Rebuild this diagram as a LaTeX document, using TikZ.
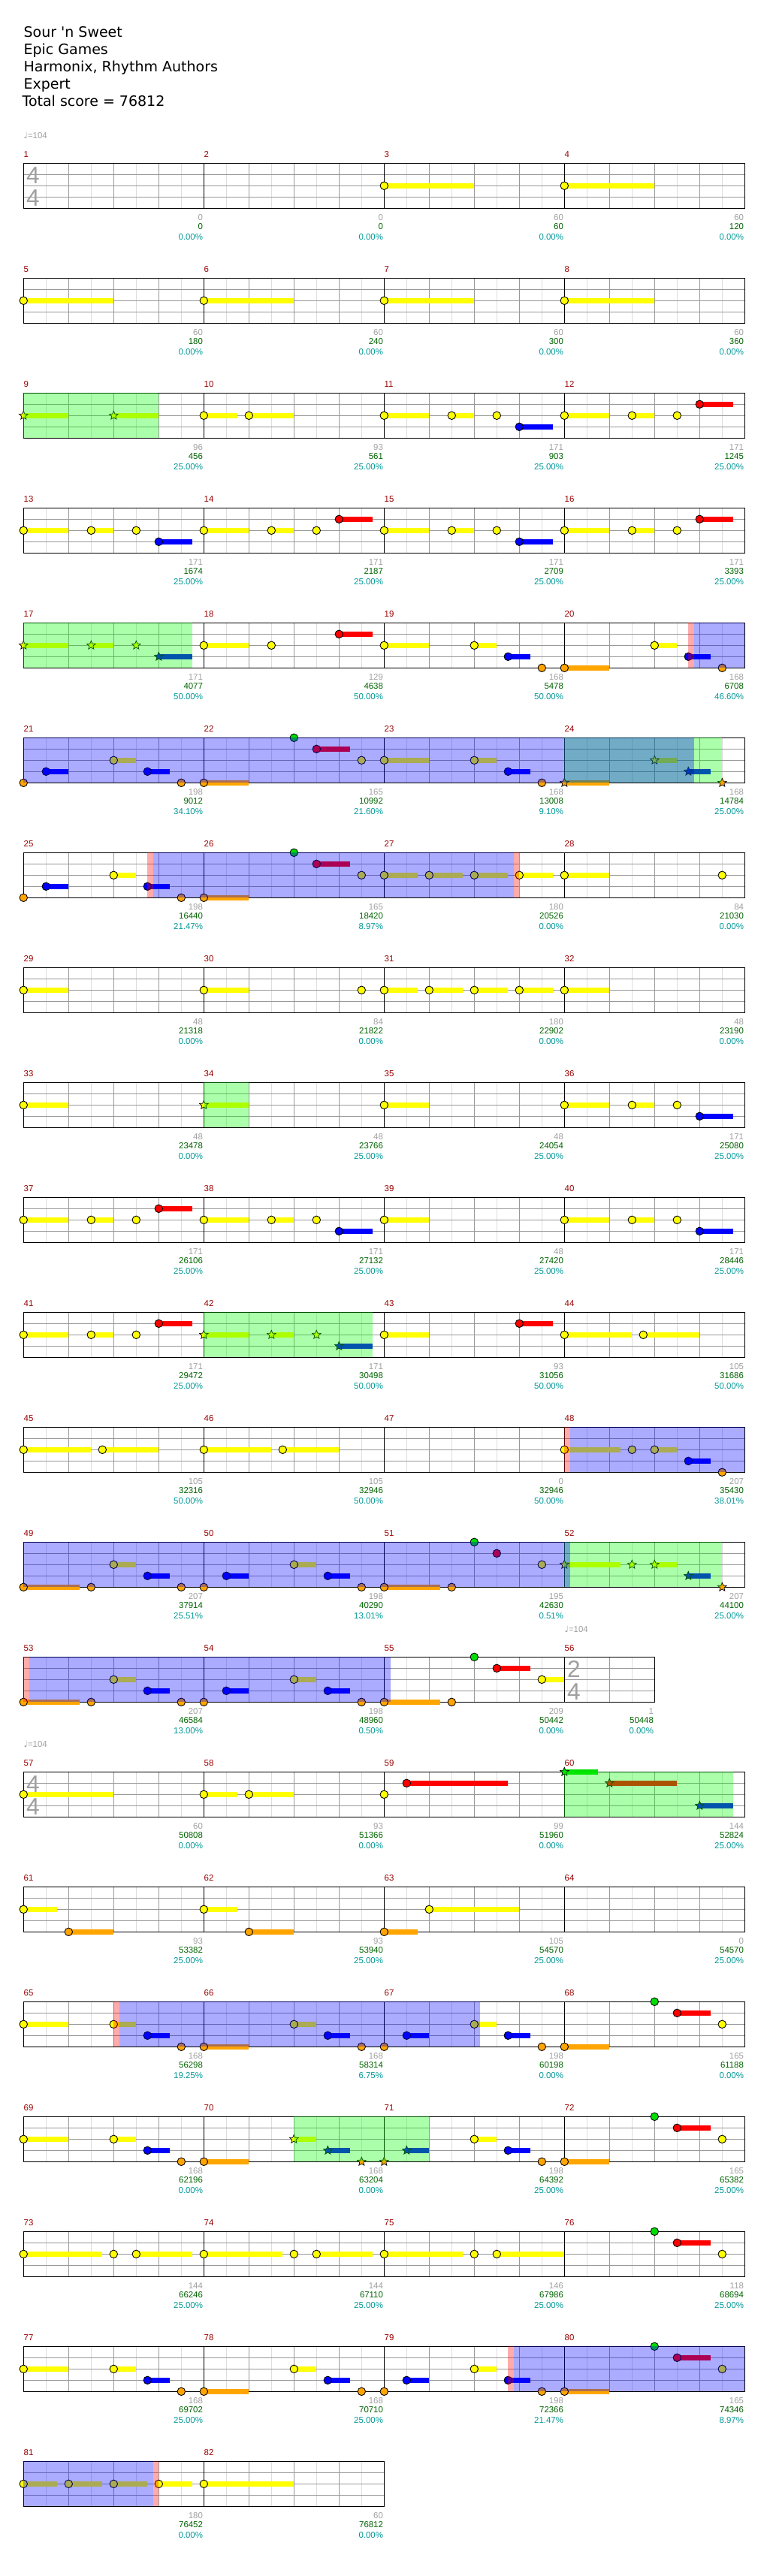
\documentclass[tikz,border=0pt]{standalone}
\usepackage{fontspec}
\newfontfamily\titlefont{DejaVu Sans}
\newfontfamily\chartfont{Liberation Sans}
\usetikzlibrary{shapes.geometric}
\definecolor{fretgreen}{HTML}{00DD00}
\definecolor{fretred}{HTML}{FF0000}
\definecolor{fretyellow}{HTML}{FFFF00}
\definecolor{fretblue}{HTML}{0000FF}
\definecolor{fretorange}{HTML}{FFA500}
\colorlet{lane0}{fretgreen}
\colorlet{lane1}{fretred}
\colorlet{lane2}{fretyellow}
\colorlet{lane3}{fretblue}
\colorlet{lane4}{fretorange}
\definecolor{barred}{HTML}{990000}
\definecolor{softgray}{HTML}{A0A0A0}
\definecolor{scoregreen}{HTML}{006400}
\definecolor{scoreteal}{HTML}{009999}
\definecolor{beatgray}{HTML}{999999}
\definecolor{halfgray}{HTML}{DDDDDD}

\begin{document}
\begin{tikzpicture}[
    row/.style={xshift=0.626cm,yshift={-4.346cm-3.06cm*(#1-1)},x=1.2cm,y=-0.3cm},
    title/.style={font=\titlefont\fontsize{10.8}{13}\selectfont,anchor=base west,inner sep=0pt},
    gem/.style={circle,fill=#1,draw=black,line width=0.5pt,inner sep=0pt,minimum size=0.21cm},
    spgem/.style={star,star points=5,star point ratio=2.2,fill=#1,draw=black,line width=0.4pt,inner sep=0pt,minimum size=0.24cm},
    small/.style={font=\chartfont\fontsize{6.5}{7}\selectfont,inner sep=0pt},
    barnum/.style={small,text=barred,anchor=base west},
    pts/.style={small,text=#1,anchor=base east,xshift=-0.02cm},
    tsig/.style={font=\chartfont\fontsize{18}{18}\selectfont,text=softgray,inner sep=0pt},
    tempo/.style={small,text=softgray,anchor=base west},
    phrase/.style={fill=green,fill opacity=0.33},
    odrive/.style={fill=blue,fill opacity=0.33},
    activ/.style={fill=red,fill opacity=0.33}]
  \def\staff#1#2{% beats, inner bar lines
    \foreach \h in {0.5,1.5,...,#1} \draw[halfgray,line width=0.5pt] (\h,0) -- (\h,4);
    \foreach \b in {1,...,#1} \draw[beatgray,line width=0.5pt] (\b,0) -- (\b,4);
    \foreach \y in {1,2,3} \draw[beatgray,line width=0.7pt] (0,\y) -- (#1,\y);
    \foreach \b in {#2} \draw[black,line width=0.5pt] (\b,0) -- (\b,4);
    \draw[black,line width=0.8pt] (0,0) rectangle (#1,4);}
  \def\gems#1#2{% row, lane/start/end
    \foreach \l/\p/\e in {#2}{\fill[lane\l] (\p,\l-0.233) rectangle (\e,\l+0.233);
      \node[gem=lane\l] (r#1-\l-\p) at (\p,\l) {};}}
  \def\stars#1#2{% row, lane/start/end
    \foreach \l/\p/\e in {#2}{\fill[lane\l] (\p,\l-0.233) rectangle (\e,\l+0.233);
      \node[spgem=lane\l] (s#1-\l-\p) at (\p,\l) {};}}
  \def\bars#1{% start/end/bar/base/total/percent
    \foreach \s/\e/\n/\a/\b/\c in {#1}{\node[barnum] (bar\n) at (\s,-0.49) {\n};
      \node[pts=softgray,yshift=-0.314cm] (pa\n) at (\e,4) {\a};
      \node[pts=scoregreen,yshift=-0.568cm] (pb\n) at (\e,4) {\b};
      \node[pts=scoreteal,yshift=-0.834cm] (pc\n) at (\e,4) {\c\%};}}
  \def\meter#1#2#3{% position, upper, lower
    \node[tsig] (up#1) at (#1+0.212,1.07) {#2};
    \node[tsig] (lo#1) at (#1+0.212,3.07) {#3};}

  \fill[white] (0,0) rectangle (20.48,-68.6);
  \useasboundingbox (0,0) rectangle (20.48,-68.6);
  \node[title] (song) at (0.626,-0.986) {Sour 'n Sweet};
  \node[title] (artist) at (0.626,-1.446) {Epic Games};
  \node[title] (charter) at (0.626,-1.914) {Harmonix, Rhythm Authors};
  \node[title] (level) at (0.626,-2.366) {Expert};
  \node[title] (total) at (0.586,-2.834) {Total score = 76812};

  % bars 1-4
  \begin{scope}[row=1]
    \staff{16}{4,8,12}
    \meter{0}{4}{4}
    \node[tempo] (bpm1) at (0,-2.19) {{\titlefont ♩}=104};
    \gems{1}{2/8/10, 2/12/14}
    \bars{0/4/1/0/0/0.00, 4/8/2/0/0/0.00, 8/12/3/60/60/0.00, 12/16/4/60/120/0.00}
  \end{scope}
  % bars 5-8
  \begin{scope}[row=2]
    \staff{16}{4,8,12}
    \gems{2}{2/0/2, 2/4/6, 2/8/10, 2/12/14}
    \bars{0/4/5/60/180/0.00, 4/8/6/60/240/0.00, 8/12/7/60/300/0.00, 12/16/8/60/360/0.00}
  \end{scope}
  % bars 9-12
  \begin{scope}[row=3]
    \staff{16}{4,8,12}
    \gems{3}{2/4/4.75, 2/5/6, 2/8/9, 2/9.5/10, 2/10.5/10.5, 3/11/11.75, 2/12/13, 2/13.5/14, 2/14.5/14.5, 1/15/15.75}
    \stars{3}{2/0/1, 2/2/3}
    \fill[phrase] (0,0) rectangle (3,4);
    \bars{0/4/9/96/456/25.00, 4/8/10/93/561/25.00, 8/12/11/171/903/25.00, 12/16/12/171/1245/25.00}
  \end{scope}
  % bars 13-16
  \begin{scope}[row=4]
    \staff{16}{4,8,12}
    \gems{4}{2/0/1, 2/1.5/2, 2/2.5/2.5, 3/3/3.75, 2/4/5, 2/5.5/6, 2/6.5/6.5, 1/7/7.75, 2/8/9, 2/9.5/10, 2/10.5/10.5, 3/11/11.75, 2/12/13, 2/13.5/14, 2/14.5/14.5, 1/15/15.75}
    \bars{0/4/13/171/1674/25.00, 4/8/14/171/2187/25.00, 8/12/15/171/2709/25.00, 12/16/16/171/3393/25.00}
  \end{scope}
  % bars 17-20
  \begin{scope}[row=5]
    \staff{16}{4,8,12}
    \gems{5}{2/4/5, 2/5.5/5.5, 1/7/7.75, 2/8/9, 2/10/10.5, 3/10.75/11.25, 4/11.5/11.5, 4/12/13, 2/14/14.5, 3/14.75/15.25, 4/15.5/15.5}
    \stars{5}{2/0/1, 2/1.5/2, 2/2.5/2.5, 3/3/3.75}
    \fill[phrase] (0,0) rectangle (3.75,4);
    \fill[activ] (14.75,0) rectangle (14.875,4);
    \fill[odrive] (14.875,0) rectangle (16,4);
    \bars{0/4/17/171/4077/50.00, 4/8/18/129/4638/50.00, 8/12/19/168/5478/50.00, 12/16/20/168/6708/46.60}
  \end{scope}
  % bars 21-24
  \begin{scope}[row=6]
    \staff{16}{4,8,12}
    \gems{6}{4/0/0, 3/0.5/1, 2/2/2.5, 3/2.75/3.25, 4/3.5/3.5, 4/4/5, 0/6/6, 1/6.5/7.25, 2/7.5/7.5, 2/8/9, 2/10/10.5, 3/10.75/11.25, 4/11.5/11.5}
    \stars{6}{4/12/13, 2/14/14.5, 3/14.75/15.25, 4/15.5/15.5}
    \fill[phrase] (12,0) rectangle (15.5,4);
    \fill[odrive] (0,0) rectangle (14.875,4);
    \bars{0/4/21/198/9012/34.10, 4/8/22/165/10992/21.60, 8/12/23/168/13008/9.10, 12/16/24/168/14784/25.00}
  \end{scope}
  % bars 25-28
  \begin{scope}[row=7]
    \staff{16}{4,8,12}
    \gems{7}{4/0/0, 3/0.5/1, 2/2/2.5, 3/2.75/3.25, 4/3.5/3.5, 4/4/5, 0/6/6, 1/6.5/7.25, 2/7.5/7.5, 2/8/8.75, 2/9/9.75, 2/10/10.75, 2/11/11.75, 2/12/13, 2/15.5/15.5}
    \fill[activ] (2.75,0) rectangle (2.875,4);
    \fill[odrive] (2.875,0) rectangle (10.875,4);
    \fill[activ] (10.875,0) rectangle (11,4);
    \bars{0/4/25/198/16440/21.47, 4/8/26/165/18420/8.97, 8/12/27/180/20526/0.00, 12/16/28/84/21030/0.00}
  \end{scope}
  % bars 29-32
  \begin{scope}[row=8]
    \staff{16}{4,8,12}
    \gems{8}{2/0/1, 2/4/5, 2/7.5/7.5, 2/8/8.75, 2/9/9.75, 2/10/10.75, 2/11/11.75, 2/12/13}
    \bars{0/4/29/48/21318/0.00, 4/8/30/84/21822/0.00, 8/12/31/180/22902/0.00, 12/16/32/48/23190/0.00}
  \end{scope}
  % bars 33-36
  \begin{scope}[row=9]
    \staff{16}{4,8,12}
    \gems{9}{2/0/1, 2/8/9, 2/12/13, 2/13.5/14, 2/14.5/14.5, 3/15/15.75}
    \stars{9}{2/4/5}
    \fill[phrase] (4,0) rectangle (5,4);
    \bars{0/4/33/48/23478/0.00, 4/8/34/48/23766/25.00, 8/12/35/48/24054/25.00, 12/16/36/171/25080/25.00}
  \end{scope}
  % bars 37-40
  \begin{scope}[row=10]
    \staff{16}{4,8,12}
    \gems{10}{2/0/1, 2/1.5/2, 2/2.5/2.5, 1/3/3.75, 2/4/5, 2/5.5/6, 2/6.5/6.5, 3/7/7.75, 2/8/9, 2/12/13, 2/13.5/14, 2/14.5/14.5, 3/15/15.75}
    \bars{0/4/37/171/26106/25.00, 4/8/38/171/27132/25.00, 8/12/39/48/27420/25.00, 12/16/40/171/28446/25.00}
  \end{scope}
  % bars 41-44
  \begin{scope}[row=11]
    \staff{16}{4,8,12}
    \gems{11}{2/0/1, 2/1.5/2, 2/2.5/2.5, 1/3/3.75, 2/8/9, 1/11/11.75, 2/12/13.5, 2/13.75/15}
    \stars{11}{2/4/5, 2/5.5/6, 2/6.5/6.5, 3/7/7.75}
    \fill[phrase] (4,0) rectangle (7.75,4);
    \bars{0/4/41/171/29472/25.00, 4/8/42/171/30498/50.00, 8/12/43/93/31056/50.00, 12/16/44/105/31686/50.00}
  \end{scope}
  % bars 45-48
  \begin{scope}[row=12]
    \staff{16}{4,8,12}
    \gems{12}{2/0/1.5, 2/1.75/3, 2/4/5.5, 2/5.75/7, 2/12/13.25, 2/13.5/13.5, 2/14/14.5, 3/14.75/15.25, 4/15.5/15.5}
    \fill[activ] (12,0) rectangle (12.125,4);
    \fill[odrive] (12.125,0) rectangle (16,4);
    \bars{0/4/45/105/32316/50.00, 4/8/46/105/32946/50.00, 8/12/47/0/32946/50.00, 12/16/48/207/35430/38.01}
  \end{scope}
  % bars 49-52
  \begin{scope}[row=13]
    \staff{16}{4,8,12}
    \gems{13}{4/0/1.25, 4/1.5/1.5, 2/2/2.5, 3/2.75/3.25, 4/3.5/3.5, 4/4/4, 3/4.5/5, 2/6/6.5, 3/6.75/7.25, 4/7.5/7.5, 4/8/9.25, 4/9.5/9.5, 0/10/10, 1/10.5/10.5, 2/11.5/11.5}
    \stars{13}{2/12/13.25, 2/13.5/13.5, 2/14/14.5, 3/14.75/15.25, 4/15.5/15.5}
    \fill[phrase] (12,0) rectangle (15.5,4);
    \fill[odrive] (0,0) rectangle (12.125,4);
    \bars{0/4/49/207/37914/25.51, 4/8/50/198/40290/13.01, 8/12/51/195/42630/0.51, 12/16/52/207/44100/25.00}
  \end{scope}
  % bars 53-56, the last one in 2/4
  \begin{scope}[row=14]
    \staff{14}{4,8,12}
    \meter{12}{2}{4}
    \node[tempo] (bpm2) at (12,-2.19) {{\titlefont ♩}=104};
    \gems{14}{4/0/1.25, 4/1.5/1.5, 2/2/2.5, 3/2.75/3.25, 4/3.5/3.5, 4/4/4, 3/4.5/5, 2/6/6.5, 3/6.75/7.25, 4/7.5/7.5, 4/8/9.25, 4/9.5/9.5, 0/10/10, 1/10.5/11.25, 2/11.5/12}
    \fill[activ] (0,0) rectangle (0.125,4);
    \fill[odrive] (0.125,0) rectangle (8.15,4);
    \bars{0/4/53/207/46584/13.00, 4/8/54/198/48960/0.50, 8/12/55/209/50442/0.00, 12/14/56/1/50448/0.00}
  \end{scope}
  % bars 57-60
  \begin{scope}[row=15]
    \staff{16}{4,8,12}
    \meter{0}{4}{4}
    \node[tempo] (bpm3) at (0,-2.19) {{\titlefont ♩}=104};
    \gems{15}{2/0/2, 2/4/4.75, 2/5/6, 2/8/8, 1/8.5/10.75}
    \stars{15}{0/12/12.75, 1/13/14.5, 3/15/15.75}
    \fill[phrase] (12,0) rectangle (15.75,4);
    \bars{0/4/57/60/50808/0.00, 4/8/58/93/51366/0.00, 8/12/59/99/51960/0.00, 12/16/60/144/52824/25.00}
  \end{scope}
  % bars 61-64
  \begin{scope}[row=16]
    \staff{16}{4,8,12}
    \gems{16}{2/0/0.75, 4/1/2, 2/4/4.75, 4/5/6, 4/8/8.75, 2/9/11}
    \bars{0/4/61/93/53382/25.00, 4/8/62/93/53940/25.00, 8/12/63/105/54570/25.00, 12/16/64/0/54570/25.00}
  \end{scope}
  % bars 65-68
  \begin{scope}[row=17]
    \staff{16}{4,8,12}
    \gems{17}{2/0/1, 2/2/2.5, 3/2.75/3.25, 4/3.5/3.5, 4/4/5, 2/6/6.5, 3/6.75/7.25, 4/7.5/7.5, 4/8/8, 3/8.5/9, 2/10/10.5, 3/10.75/11.25, 4/11.5/11.5, 4/12/13, 0/14/14, 1/14.5/15.25, 2/15.5/15.5}
    \fill[activ] (2,0) rectangle (2.125,4);
    \fill[odrive] (2.125,0) rectangle (10.125,4);
    \bars{0/4/65/168/56298/19.25, 4/8/66/168/58314/6.75, 8/12/67/198/60198/0.00, 12/16/68/165/61188/0.00}
  \end{scope}
  % bars 69-72
  \begin{scope}[row=18]
    \staff{16}{4,8,12}
    \gems{18}{2/0/1, 2/2/2.5, 3/2.75/3.25, 4/3.5/3.5, 4/4/5, 2/10/10.5, 3/10.75/11.25, 4/11.5/11.5, 4/12/13, 0/14/14, 1/14.5/15.25, 2/15.5/15.5}
    \stars{18}{2/6/6.5, 3/6.75/7.25, 4/7.5/7.5, 4/8/8, 3/8.5/9}
    \fill[phrase] (6,0) rectangle (9,4);
    \bars{0/4/69/168/62196/0.00, 4/8/70/168/63204/0.00, 8/12/71/198/64392/25.00, 12/16/72/165/65382/25.00}
  \end{scope}
  % bars 73-76
  \begin{scope}[row=19]
    \staff{16}{4,8,12}
    \gems{19}{2/0/1.75, 2/2/2, 2/2.5/3.75, 2/4/5.75, 2/6/6, 2/6.5/7.75, 2/8/9.75, 2/10/10, 2/10.5/12, 0/14/14, 1/14.5/15.25, 2/15.5/15.5}
    \bars{0/4/73/144/66246/25.00, 4/8/74/144/67110/25.00, 8/12/75/146/67986/25.00, 12/16/76/118/68694/25.00}
  \end{scope}
  % bars 77-80
  \begin{scope}[row=20]
    \staff{16}{4,8,12}
    \gems{20}{2/0/1, 2/2/2.5, 3/2.75/3.25, 4/3.5/3.5, 4/4/5, 2/6/6.5, 3/6.75/7.25, 4/7.5/7.5, 4/8/8, 3/8.5/9, 2/10/10.5, 3/10.75/11.25, 4/11.5/11.5, 4/12/13, 0/14/14, 1/14.5/15.25, 2/15.5/15.5}
    \fill[activ] (10.75,0) rectangle (10.875,4);
    \fill[odrive] (10.875,0) rectangle (16,4);
    \bars{0/4/77/168/69702/25.00, 4/8/78/168/70710/25.00, 8/12/79/198/72366/21.47, 12/16/80/165/74346/8.97}
  \end{scope}
  % bars 81-82
  \begin{scope}[row=21]
    \staff{8}{4}
    \gems{21}{2/0/0.75, 2/1/1.75, 2/2/2.75, 2/3/3.75, 2/4/6}
    \fill[odrive] (0,0) rectangle (2.875,4);
    \fill[activ] (2.875,0) rectangle (3,4);
    \bars{0/4/81/180/76452/0.00, 4/8/82/60/76812/0.00}
  \end{scope}
\end{tikzpicture}
\end{document}
